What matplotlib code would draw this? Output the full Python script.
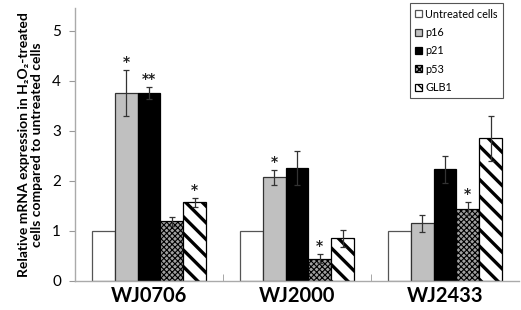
import matplotlib
matplotlib.use("Agg")
import matplotlib.pyplot as plt
import numpy as np

plt.rcParams['font.family'] = ['Lato', 'DejaVu Sans']

# data
groups = ['WJ0706', 'WJ2000', 'WJ2433']
series = ['Untreated cells', 'p16', 'p21', 'p53', 'GLB1']
values = {
    'Untreated cells': [1.0, 1.0, 1.0],
    'p16': [3.75, 2.07, 1.15],
    'p21': [3.76, 2.26, 2.23],
    'p53': [1.19, 0.44, 1.44],
    'GLB1': [1.57, 0.85, 2.85],
}
errors = {
    'Untreated cells': [0, 0, 0],
    'p16': [0.46, 0.15, 0.17],
    'p21': [0.12, 0.34, 0.27],
    'p53': [0.09, 0.09, 0.13],
    'GLB1': [0.09, 0.17, 0.45],
}
stars = {
    'p16': ['*', '*', ''],
    'p21': ['**', '', ''],
    'p53': ['', '*', '*'],
    'GLB1': ['*', '', ''],
}

styles = {
    'Untreated cells': dict(facecolor='white', edgecolor='#555555', hatch=None),
    'p16': dict(facecolor='#c0c0c0', edgecolor='#333333', hatch=None),
    'p21': dict(facecolor='black', edgecolor='black', hatch=None),
    'p53': dict(facecolor='#a0a0a0', edgecolor='black', hatch='xxxxxx'),
    'GLB1': dict(facecolor='white', edgecolor='black', hatch='\\\\'),
}
hatch_lw = {'p53': 0.8, 'GLB1': 2.4}

fig = plt.figure(figsize=(5.21, 3.10), dpi=100)
ax = fig.add_axes([0.144, 0.094, 0.852, 0.880])

x = np.arange(len(groups))
w = 0.154
for i, s in enumerate(series):
    pos = x + (i - 2) * w
    st = styles[s]
    bars = ax.bar(pos, values[s], w, facecolor=st['facecolor'], edgecolor=st['edgecolor'],
                  hatch=st['hatch'], linewidth=0.9, label=s, zorder=2)
    if s in hatch_lw:
        for b in bars:
            if hasattr(b, 'set_hatch_linewidth'):
                b.set_hatch_linewidth(hatch_lw[s])
    if s != 'Untreated cells':
        ax.errorbar(pos, values[s], yerr=errors[s], fmt='none', ecolor='#333333',
                    elinewidth=0.9, capsize=2.5, capthick=0.9, zorder=3)
    if s in stars:
        for p, v, e, t in zip(pos, values[s], errors[s], stars[s]):
            if t:
                ax.text(p, v + e + 0.02, t, ha='center', va='bottom', fontsize=10,
                        fontweight='bold', color='#222222', family='DejaVu Sans')

ax.set_xlim(-0.5, 2.5)
ax.set_ylim(0, 5.45)
ax.set_yticks([0, 1, 2, 3, 4, 5])
ax.set_xticks(x)
ax.set_xticklabels(groups, fontsize=14.5, fontweight='bold')
ax.set_xticks([0.5, 1.5], minor=True)
ax.tick_params(axis='x', which='major', length=0, pad=4)
ax.tick_params(axis='x', which='minor', length=5, direction='in', color='#999999')
ax.tick_params(axis='y', labelsize=11, length=4, color='#999999', pad=6)

for side in ['top', 'right']:
    ax.spines[side].set_visible(False)
for side in ['left', 'bottom']:
    ax.spines[side].set_color('#aaaaaa')
    ax.spines[side].set_linewidth(1)

ax.set_ylabel('Relative mRNA expression in H\u2082O\u2082-treated\ncells compared to untreated cells',
              fontsize=10, fontweight='bold', labelpad=7, linespacing=1.1)

leg = ax.legend(loc='upper right', bbox_to_anchor=(0.964, 1.018), fontsize=7.8,
                handlelength=0.6, handleheight=0.6, handletextpad=0.3,
                labelspacing=0.68, borderpad=0.5, fancybox=False, framealpha=1,
                borderaxespad=0.0)
leg.get_frame().set_edgecolor('#555555')
leg.get_frame().set_linewidth(0.8)

fig.savefig('out.png', dpi=100)
